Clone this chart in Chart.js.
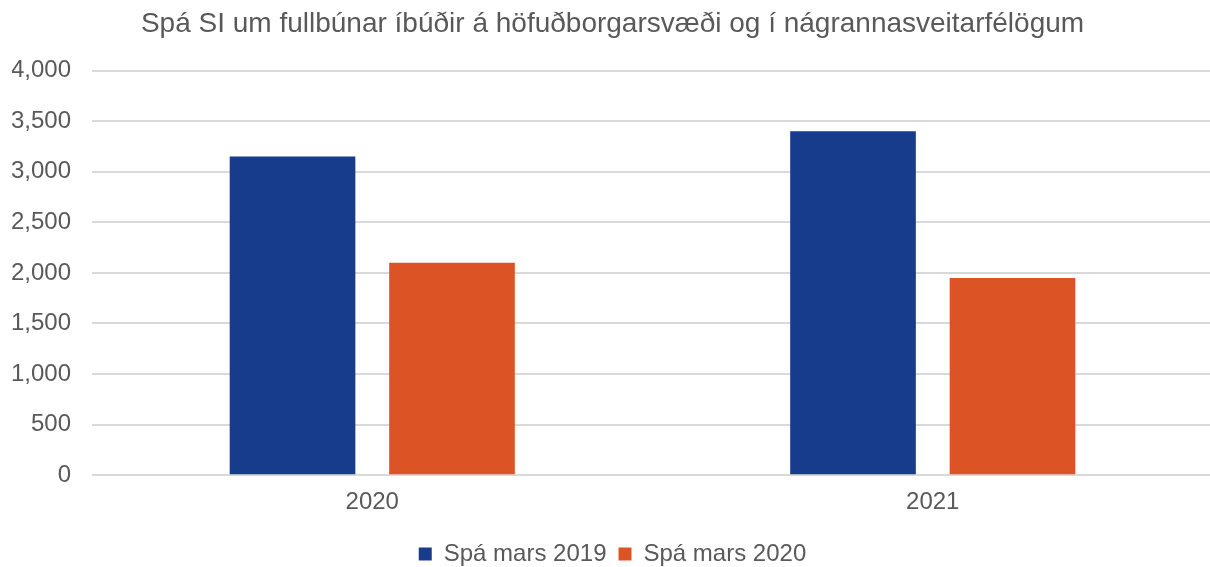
<!DOCTYPE html>
<html>
<head>
<meta charset="utf-8">
<script src="https://cdn.jsdelivr.net/npm/chart.js@4/dist/chart.umd.min.js"></script>
<style>
  html, body { margin: 0; padding: 0; background: #fff; overflow: hidden; }
  #wrap { width: 1210px; height: 567px; overflow: hidden; }
</style>
</head>
<body>
<div id="wrap"><canvas id="chart" width="1213" height="567"></canvas></div>
<script>
// gögn
const categories = ['2020', '2021'];
const spa2019 = [3150, 3400];
const spa2020 = [2100, 1950];
const yTicks = [0, 500, 1000, 1500, 2000, 2500, 3000, 3500, 4000];

const textColor = '#595959';
const font = { family: '"Liberation Sans", Arial, sans-serif', size: 24, weight: 'normal' };

const ctx = document.getElementById('chart');
new Chart(ctx, {
    type: 'bar',
    data: {
        labels: categories,
        datasets: [{
            label: 'Spá mars 2019',
            data: spa2019,
            backgroundColor: '#173c8c'
        }, {
            label: 'Spá mars 2020',
            data: spa2020,
            backgroundColor: '#dc5426'
        }]
    },
    options: {
        responsive: false,
        animation: false,
        categoryPercentage: 0.569,
        barPercentage: 0.788,
        layout: { padding: { left: 12, right: 0, top: 0, bottom: -9 } },
        plugins: {
            title: {
                display: true,
                text: 'Spá SI um fullbúnar íbúðir á höfuðborgarsvæði og í nágrannasveitarfélögum',
                font: { ...font, size: 28 },
                color: textColor,
                padding: { top: 7, bottom: 30 }
            },
            legend: {
                position: 'bottom',
                labels: {
                    font: font,
                    color: textColor,
                    boxWidth: 13,
                    boxHeight: 13,
                    padding: 12
                }
            },
            tooltip: { enabled: false }
        },
        scales: {
            x: {
                grid: { display: false },
                border: { display: false },
                afterFit: axis => {
                    axis.height += 8;
                },
                ticks: { font: font, color: textColor, padding: 5 }
            },
            y: {
                min: 0,
                max: 4000,
                afterBuildTicks: axis => {
                    axis.ticks = yTicks.map(v => ({ value: v }));
                },
                afterFit: axis => {
                    axis.width = 80;
                },
                grid: { color: '#d9d9d9', lineWidth: 2, drawTicks: false },
                border: { display: false },
                ticks: {
                    font: font,
                    color: textColor,
                    padding: 21,
                    callback: v => v.toLocaleString('en-US')
                }
            }
        }
    }
});
</script>
</body>
</html>
